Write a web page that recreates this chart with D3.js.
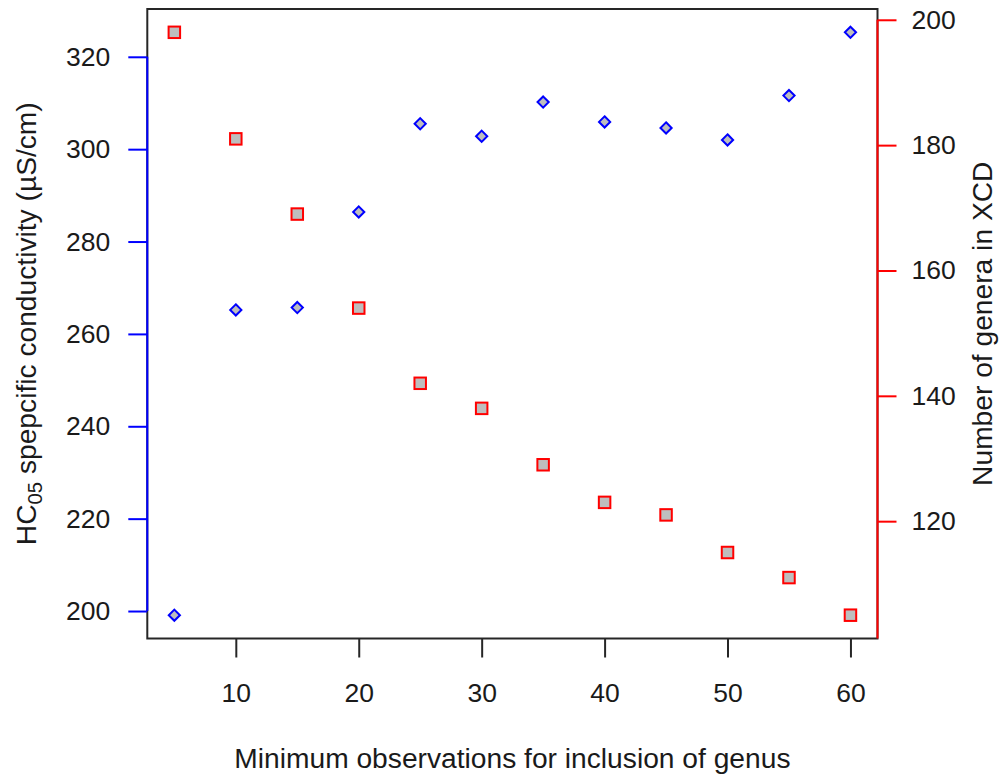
<!DOCTYPE html>
<html>
<head>
<meta charset="utf-8">
<script src="https://cdn.jsdelivr.net/npm/d3@7"></script>
<style>
  body { margin: 0; background: #fff; }
  text { font-family: "Liberation Sans", Arial, sans-serif; fill: #1a1a1a; }
</style>
</head>
<body>
<div id="chart"></div>
<script>
// minimum observations per genus
const minObs = [5, 10, 15, 20, 25, 30, 35, 40, 45, 50, 55, 60];
// HC05 (left axis, blue diamonds)
const hc05 = [199.1, 265.2, 265.7, 286.4, 305.5, 302.8, 310.2, 305.9, 304.6, 302.0, 311.6, 325.3];
// number of genera (right axis, red squares)
const genera = [198, 181, 169, 154, 142, 138, 129, 123, 121, 115, 111, 105];

const xTicks = [10, 20, 30, 40, 50, 60];
const leftTicks = [200, 220, 240, 260, 280, 300, 320];
const rightTicks = [120, 140, 160, 180, 200];

const W = 999, H = 775;
const plot = { left: 147.3, right: 877.5, top: 9, bottom: 638.5 };
const fs = 26.5;      // tick labels
const fsLab = 28.2;   // axis titles

// R style 4% padding on the data range
function pad(ext) {
    const e = (ext[1] - ext[0]) * 0.04;
    return [ext[0] - e, ext[1] + e];
}

const svg = d3.select("#chart")
    .append("svg")
    .attr("width", W)
    .attr("height", H);

const x = d3.scaleLinear()
    .domain(pad(d3.extent(minObs)))
    .range([plot.left, plot.right]);

const yL = d3.scaleLinear()
    .domain(pad(d3.extent(hc05)))
    .range([plot.bottom, plot.top]);

const yR = d3.scaleLinear()
    .domain(pad(d3.extent(genera)))
    .range([plot.bottom, plot.top]);

// box
svg.append("rect")
    .attr("x", plot.left)
    .attr("y", plot.top)
    .attr("width", plot.right - plot.left)
    .attr("height", plot.bottom - plot.top)
    .attr("fill", "none")
    .attr("stroke", "#262626")
    .attr("stroke-width", 2);

// bottom axis
const xAxis = d3.axisBottom(x)
    .tickValues(xTicks)
    .tickSize(19)
    .tickPadding(26)
    .tickSizeOuter(0);

const gx = svg.append("g")
    .attr("transform", `translate(0,${plot.bottom})`)
    .call(xAxis);
gx.select(".domain").remove();
gx.selectAll(".tick line").attr("stroke", "#262626").attr("stroke-width", 2);
gx.selectAll(".tick text")
    .attr("font-size", fs)
    .attr("fill", "#1a1a1a")
    .attr("font-family", "Liberation Sans, Arial, sans-serif");

// left axis, blue
const gl = svg.append("g")
    .attr("transform", `translate(${plot.left},0)`)
    .call(d3.axisLeft(yL).tickValues(leftTicks).tickSize(19).tickPadding(18).tickSizeOuter(0));
gl.select(".domain").remove();
gl.append("line")
    .attr("x1", 0).attr("x2", 0)
    .attr("y1", yL(d3.min(leftTicks)))
    .attr("y2", yL(d3.max(leftTicks)))
    .attr("stroke", "#0000ff")
    .attr("stroke-width", 2);
gl.selectAll(".tick line").attr("stroke", "#0000ff").attr("stroke-width", 2);
gl.selectAll(".tick text")
    .attr("font-size", fs)
    .attr("fill", "#1a1a1a")
    .attr("font-family", "Liberation Sans, Arial, sans-serif");

// right axis, red
const gr = svg.append("g")
    .attr("transform", `translate(${plot.right},0)`)
    .call(d3.axisRight(yR).tickValues(rightTicks).tickSize(19).tickPadding(15).tickSizeOuter(0));
gr.select(".domain").remove();
gr.append("line")
    .attr("x1", 0).attr("x2", 0)
    .attr("y1", yR(d3.max(rightTicks)))
    .attr("y2", plot.bottom)
    .attr("stroke", "#ff0000")
    .attr("stroke-width", 2);
gr.selectAll(".tick line").attr("stroke", "#ff0000").attr("stroke-width", 2);
gr.selectAll(".tick text")
    .attr("font-size", fs)
    .attr("fill", "#1a1a1a")
    .attr("font-family", "Liberation Sans, Arial, sans-serif");

// points
const pts = minObs.map((m, i) => ({ m, hc: hc05[i], n: genera[i] }));

const sq = 11.5;
svg.selectAll(".sq")
    .data(pts)
    .enter()
    .append("rect")
    .attr("class", "sq")
    .attr("x", d => x(d.m) - sq / 2)
    .attr("y", d => yR(d.n) - sq / 2)
    .attr("width", sq)
    .attr("height", sq)
    .attr("fill", "#bebebe")
    .attr("stroke", "#ff0000")
    .attr("stroke-width", 2);

const dm = 5.6;
svg.selectAll(".dia")
    .data(pts)
    .enter()
    .append("path")
    .attr("class", "dia")
    .attr("d", d => {
        const cx = x(d.m), cy = yL(d.hc);
        return `M${cx},${cy - dm}L${cx + dm},${cy}L${cx},${cy + dm}L${cx - dm},${cy}Z`;
    })
    .attr("fill", "#bebebe")
    .attr("stroke", "#0000ff")
    .attr("stroke-width", 2);

// titles
const midY = (plot.top + plot.bottom) / 2;

svg.append("text")
    .attr("x", (plot.left + plot.right) / 2)
    .attr("y", 768)
    .attr("text-anchor", "middle")
    .attr("font-size", fsLab)
    .text("Minimum observations for inclusion of genus");

const lt = svg.append("text")
    .attr("transform", `translate(36,${midY}) rotate(-90)`)
    .attr("text-anchor", "middle")
    .attr("font-size", fsLab);
lt.append("tspan").text("HC");
lt.append("tspan").attr("font-size", fsLab * 0.72).attr("dy", 6).text("05");
lt.append("tspan").attr("dy", -6).text(" spepcific conductivity (µS/cm)");

svg.append("text")
    .attr("transform", `translate(992,${midY}) rotate(-90)`)
    .attr("text-anchor", "middle")
    .attr("font-size", fsLab)
    .text("Number of genera in XCD");
</script>
</body>
</html>
